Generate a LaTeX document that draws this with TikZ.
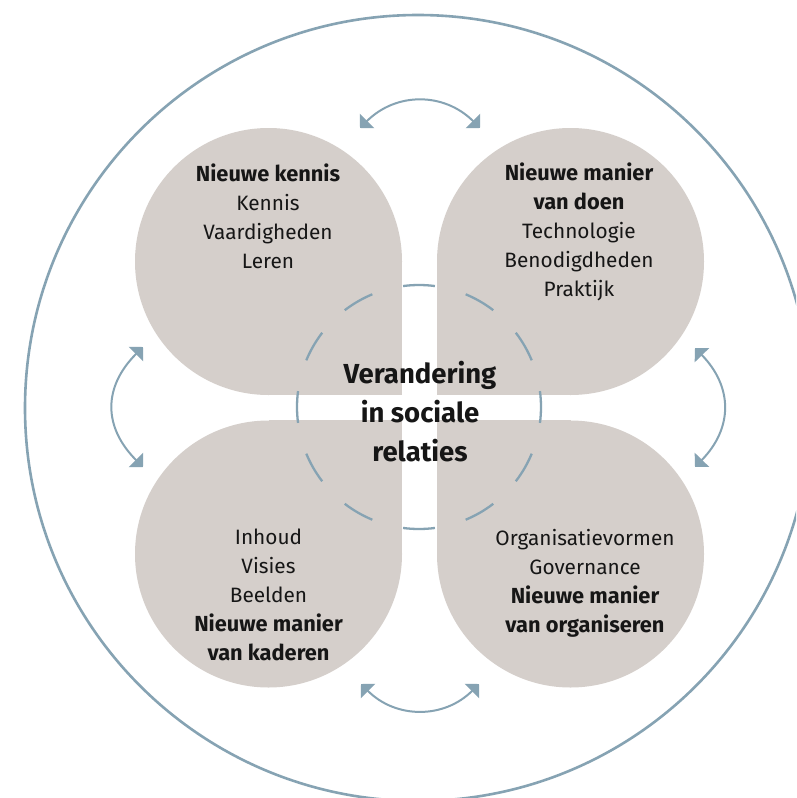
\documentclass[tikz,border=0pt]{standalone}
\usepackage{fontspec}
\setmainfont{Fira Sans}
\usetikzlibrary{arrows.meta}
\definecolor{petal}{HTML}{D5CFCB}
\definecolor{ring}{HTML}{86A3B3}
\definecolor{ink}{HTML}{161616}
\newcommand{\headtxt}[1]{{\fontsize{21.8}{28.8}\selectfont\bfseries #1}}
\begin{document}
\begin{tikzpicture}[x=1pt,y=-1pt,
  petalfill/.style={fill=petal},
  lbl/.style={align=center, inner sep=0pt, anchor=base, text=ink, font=\fontsize{20.8}{28.8}\selectfont},
  centerlbl/.style={align=center, inner sep=0pt, anchor=base, text=ink, font=\bfseries\fontsize{27.5}{39}\selectfont},
  swaparrow/.style={draw=ring, line width=2pt, {Triangle[length=10pt,width=20pt]}-{Triangle[length=10pt,width=20pt]}},
  ringline/.style={draw=ring, line width=2.6pt},
  dashline/.style={draw=ring, line width=2.3pt}
  ]
\useasboundingbox (0,0) rectangle (796,798);
\clip (0,0) rectangle (796,798);
\fill[white] (0,0) rectangle (796,798);
% outer ring
\coordinate (oc) at (418,408);
\draw[ringline] (oc) circle[radius=393];
% petals
\fill[petalfill] (268.5,261.5) circle[radius=133.5];
\fill[petalfill] (268.5,261.5) rectangle (402,395);
\fill[petalfill] (570.5,261.5) circle[radius=133.5];
\fill[petalfill] (437,261.5) rectangle (570.5,395);
\fill[petalfill] (268.5,554) circle[radius=133.5];
\fill[petalfill] (268.5,420) rectangle (402,554);
\fill[petalfill] (570.5,554) circle[radius=133.5];
\fill[petalfill] (437,420) rectangle (570.5,554);
% dashed inner circle
\coordinate (ic) at (419,407);
\foreach \a in {0,30,...,330}{
  \draw[dashline] ([shift={(\a-7.5:122)}]ic) arc[start angle=\a-7.5, end angle=\a+7.5, radius=122];
}
% texts (anchor = baseline of last line)
\node[lbl] (tl) at (268,268) {\headtxt{Nieuwe kennis}\\Kennis\\Vaardigheden\\Leren};
\node[lbl] (tr) at (579,296) {\headtxt{Nieuwe manier}\\\headtxt{van doen}\\Technologie\\Benodigdheden\\Praktijk};
\node[lbl] (bl) at (268.5,660) {Inhoud\\Visies\\Beelden\\\headtxt{Nieuwe manier}\\\headtxt{van kaderen}};
\node[lbl] (br) at (585,632) {Organisatievormen\\Governance\\\headtxt{Nieuwe manier}\\\headtxt{van organiseren}};
\node[centerlbl] (ctr) at (420,461) {Verandering\\in sociale\\relaties};
% arrows
\coordinate (topL) at (360,128);
\coordinate (topR) at (480,128);
\coordinate (botL) at (361,684);
\coordinate (botR) at (479,684);
\coordinate (lftT) at (143,347);
\coordinate (lftB) at (143,467);
\coordinate (rgtT) at (695,348);
\coordinate (rgtB) at (695,467);
\draw[swaparrow] (topL) .. controls (396,92) and (444,92) .. (topR);
\draw[swaparrow] (botL) .. controls (396,719) and (444,719) .. (botR);
\draw[swaparrow] (lftT) .. controls (103,387) and (103,427) .. (lftB);
\draw[swaparrow] (rgtT) .. controls (733,387) and (733,428) .. (rgtB);
\end{tikzpicture}
\end{document}
